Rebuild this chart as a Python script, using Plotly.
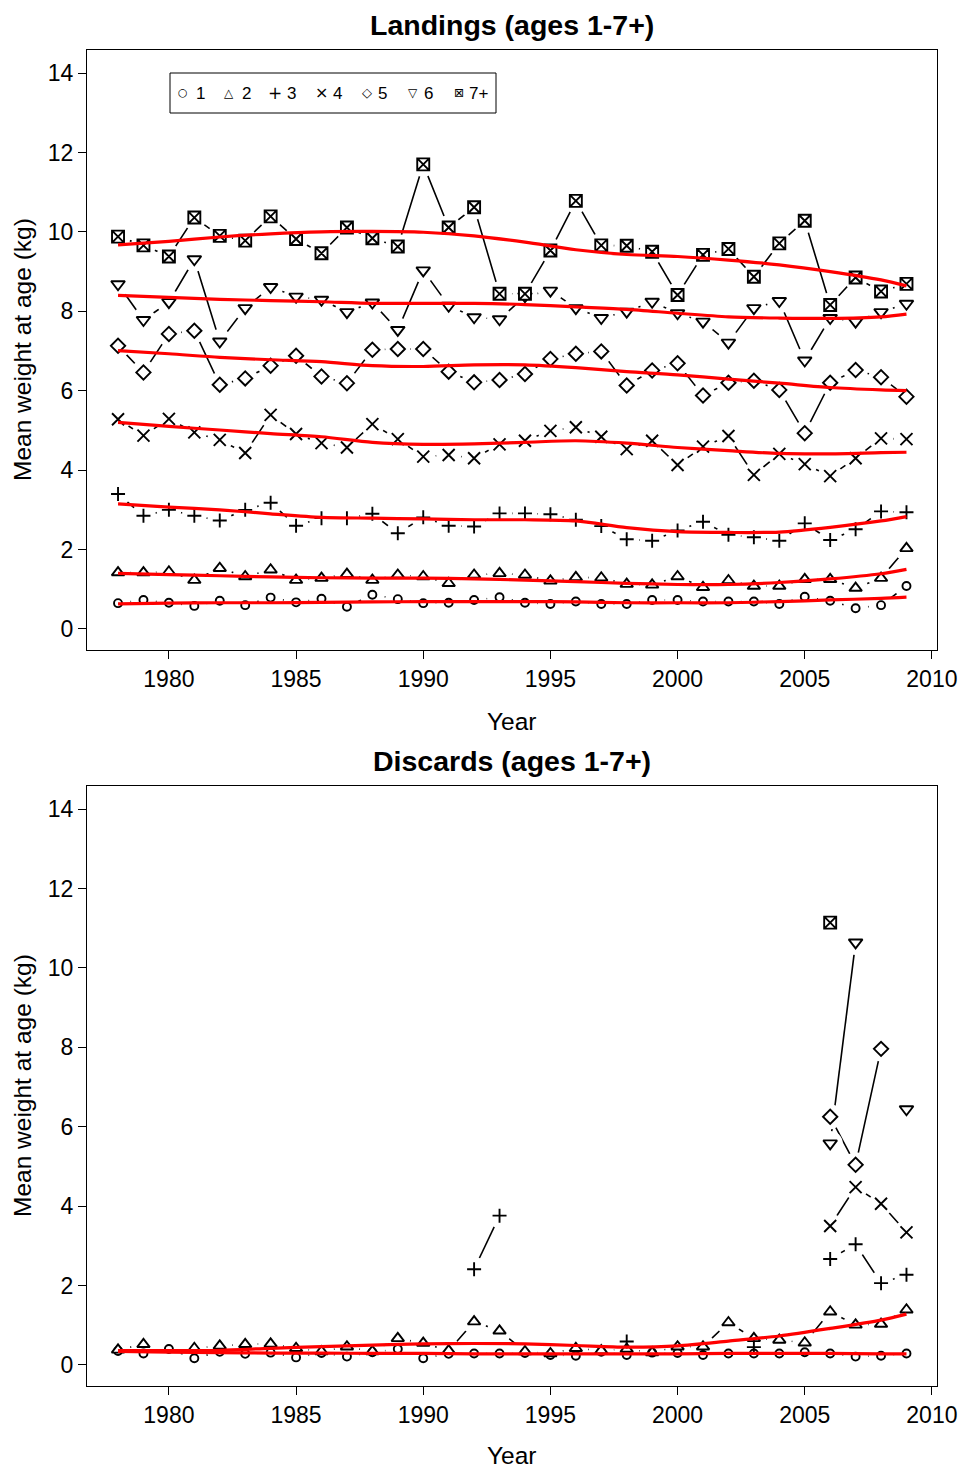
import plotly.graph_objects as go

years = list(range(1978, 2010))
age_names = ["1", "2", "3", "4", "5", "6", "7+"]

# Landings mean weight at age (kg)
land_1 = [0.65, 0.73, 0.66, 0.58, 0.71, 0.60, 0.79, 0.67, 0.76, 0.56, 0.86, 0.75, 0.65, 0.66, 0.73, 0.80,
          0.66, 0.63, 0.69, 0.63, 0.63, 0.73, 0.73, 0.69, 0.69, 0.69, 0.63, 0.81, 0.71, 0.52, 0.60, 1.08]
land_2 = [1.42, 1.42, 1.44, 1.23, 1.53, 1.32, 1.49, 1.23, 1.28, 1.38, 1.23, 1.36, 1.32, 1.15, 1.36, 1.40,
          1.36, 1.21, 1.30, 1.29, 1.13, 1.11, 1.32, 1.05, 1.22, 1.08, 1.08, 1.25, 1.25, 1.03, 1.28, 2.03]
land_3 = [3.40, 2.85, 3.00, 2.85, 2.73, 3.00, 3.18, 2.60, 2.79, 2.79, 2.90, 2.41, 2.81, 2.60, 2.58, 2.91,
          2.91, 2.89, 2.75, 2.59, 2.26, 2.22, 2.48, 2.70, 2.37, 2.31, 2.22, 2.66, 2.24, 2.51, 2.96, 2.94]
land_4 = [5.28, 4.87, 5.29, 4.95, 4.76, 4.43, 5.39, 4.91, 4.68, 4.57, 5.16, 4.78, 4.34, 4.38, 4.30, 4.65,
          4.74, 4.99, 5.08, 4.84, 4.53, 4.74, 4.13, 4.59, 4.86, 3.88, 4.41, 4.15, 3.85, 4.30, 4.80, 4.78]
land_5 = [7.13, 6.46, 7.43, 7.51, 6.15, 6.31, 6.63, 6.88, 6.36, 6.19, 7.03, 7.05, 7.05, 6.48, 6.21, 6.27,
          6.42, 6.80, 6.93, 6.99, 6.13, 6.51, 6.69, 5.88, 6.20, 6.25, 6.02, 4.93, 6.20, 6.52, 6.34, 5.85]
land_6 = [8.68, 7.78, 8.23, 9.31, 7.24, 8.08, 8.61, 8.37, 8.29, 7.98, 8.22, 7.53, 9.03, 8.14, 7.85, 7.80,
          8.38, 8.52, 8.08, 7.83, 7.99, 8.24, 7.95, 7.74, 7.21, 8.08, 8.26, 6.76, 7.83, 7.74, 7.98, 8.19]
land_7 = [9.88, 9.66, 9.38, 10.36, 9.90, 9.78, 10.39, 9.82, 9.46, 10.11, 9.84, 9.63, 11.70, 10.11, 10.62, 8.44,
          8.44, 9.53, 10.78, 9.66, 9.65, 9.50, 8.41, 9.42, 9.57, 8.87, 9.71, 10.28, 8.16, 8.85, 8.50, 8.69]

# Discards mean weight at age (kg); None = no data
N = None
disc_1 = [0.35, 0.29, 0.40, 0.17, 0.33, 0.28, 0.31, 0.19, 0.30, 0.21, 0.32, 0.40, 0.17, 0.28, 0.29, 0.29,
          0.30, 0.25, 0.23, 0.33, 0.25, 0.31, 0.30, 0.25, 0.29, 0.29, 0.29, 0.32, 0.29, 0.21, 0.23, 0.29]
disc_2 = [0.38, 0.52, N, 0.42, 0.48, 0.52, 0.53, 0.42, 0.34, 0.46, 0.34, 0.67, 0.55, 0.36, 1.09, 0.86,
          0.34, 0.29, 0.42, 0.36, 0.40, 0.31, 0.46, 0.46, 1.07, 0.67, 0.63, 0.56, 1.34, 1.01, 1.03, 1.39]
disc_3 = [N, N, N, N, N, N, N, N, N, N, N, N, N, N, 2.41, 3.76,
          N, N, N, N, 0.59, N, N, N, N, 0.45, N, N, 2.67, 3.04, 2.06, 2.27]
disc_4 = [N] * 28 + [3.50, 4.48, 4.06, 3.34]
disc_5 = [N] * 28 + [6.25, 5.04, 7.96, N]
disc_6 = [N] * 28 + [5.58, 10.64, N, 6.44]
disc_7 = [N] * 28 + [11.14, N, N, N]

# Smoothed trend lines (red), read at these years
smooth_years = [1978, 1980, 1982, 1984, 1986, 1988, 1990, 1992, 1994, 1996, 1998, 2000, 2002, 2004, 2006, 2008, 2009]
land_s1 = [0.63, 0.65, 0.66, 0.66, 0.67, 0.68, 0.69, 0.69, 0.69, 0.68, 0.66, 0.66, 0.66, 0.69, 0.73, 0.77, 0.80]
land_s2 = [1.40, 1.37, 1.34, 1.31, 1.29, 1.28, 1.28, 1.26, 1.23, 1.19, 1.15, 1.12, 1.12, 1.17, 1.26, 1.39, 1.50]
land_s3 = [3.15, 3.07, 3.00, 2.90, 2.81, 2.79, 2.77, 2.75, 2.75, 2.72, 2.55, 2.45, 2.43, 2.44, 2.56, 2.72, 2.83]
land_s4 = [5.20, 5.10, 5.01, 4.92, 4.84, 4.70, 4.65, 4.66, 4.70, 4.74, 4.68, 4.57, 4.49, 4.42, 4.41, 4.44, 4.45]
land_s5 = [7.01, 6.93, 6.84, 6.78, 6.73, 6.63, 6.61, 6.65, 6.65, 6.58, 6.48, 6.40, 6.29, 6.19, 6.08, 6.02, 6.00]
land_s6 = [8.40, 8.35, 8.30, 8.27, 8.24, 8.20, 8.20, 8.20, 8.17, 8.11, 8.05, 7.95, 7.86, 7.83, 7.82, 7.86, 7.93]
land_s7 = [9.67, 9.76, 9.87, 9.95, 10.00, 10.01, 9.99, 9.90, 9.74, 9.55, 9.43, 9.38, 9.29, 9.17, 9.00, 8.79, 8.64]
disc_s1 = [0.34, 0.32, 0.31, 0.30, 0.30, 0.29, 0.29, 0.28, 0.28, 0.28, 0.28, 0.28, 0.29, 0.29, 0.29, 0.28, 0.28]
disc_s2 = [0.36, 0.36, 0.37, 0.42, 0.46, 0.50, 0.53, 0.54, 0.53, 0.49, 0.45, 0.48, 0.60, 0.73, 0.92, 1.13, 1.28]

x_ticks = [1980, 1985, 1990, 1995, 2000, 2005, 2010]
y_ticks = [0, 2, 4, 6, 8, 10, 12, 14]

# legend key glyphs (text)
legend_glyphs = ["\u25CB", "\u25B3", "+", "\u00D7", "\u25C7", "\u25BD", "\u22A0"]

# styles
symbols = ["circle", "triangle-up", "cross-thin", "x-thin", "diamond", "triangle-down", "square-x"]
sizes = [8, 11, 10, 12, 11, 12, 12]
fills = ["white", "white", "black", "black", "white", "white", "white"]
glyph_sizes = [11, 12, 17, 16, 13, 12, 12]
FONT = "Liberation Sans, Arial, sans-serif"
GLYPH_FONT = "DejaVu Sans, sans-serif"

fig = go.Figure()

def add_panel(series, smooths, xa, ya):
    # connecting lines
    for s in series:
        fig.add_trace(go.Scatter(x=years, y=s, mode="lines", xaxis=xa, yaxis=ya,
                                 line=dict(color="black", width=1.6),
                                 showlegend=False, hoverinfo="skip"))
    # white gaps around points (type "b" look)
    for s in series:
        fig.add_trace(go.Scatter(x=years, y=s, mode="markers", xaxis=xa, yaxis=ya,
                                 marker=dict(symbol="circle", size=25, color="white", line=dict(width=0)),
                                 showlegend=False, hoverinfo="skip"))
    # point symbols
    for s, sym, sz, fc, nm in zip(series, symbols, sizes, fills, age_names):
        fig.add_trace(go.Scatter(x=years, y=s, mode="markers", xaxis=xa, yaxis=ya, name=nm,
                                 marker=dict(symbol=sym, size=sz, color=fc,
                                             line=dict(color="black", width=1.9)),
                                 showlegend=False))
    # smoothed trends
    for sm in smooths:
        fig.add_trace(go.Scatter(x=smooth_years, y=sm, mode="lines", xaxis=xa, yaxis=ya,
                                 line=dict(color="red", width=3.2, shape="spline", smoothing=0.8),
                                 showlegend=False, hoverinfo="skip"))

add_panel([land_1, land_2, land_3, land_4, land_5, land_6, land_7],
          [land_s1, land_s2, land_s3, land_s4, land_s5, land_s6, land_s7], "x", "y")
add_panel([disc_1, disc_2, disc_3, disc_4, disc_5, disc_6, disc_7],
          [disc_s1, disc_s2], "x2", "y2")

xrange = [1976.78, 2010.2]
yrange = [-0.53, 14.58]
top_dom = [736 / 1336, 1.0]
bot_dom = [0.0, 600 / 1336]

axis_common = dict(showline=True, mirror=True, linecolor="black", linewidth=1,
                   ticks="outside", ticklen=8, tickwidth=1, tickcolor="black",
                   showgrid=False, zeroline=False, automargin=False,
                   tickfont=dict(family=FONT, size=23, color="black"))

fig.update_layout(
    width=966, height=1470,
    margin=dict(l=87, r=29, t=50, b=84),
    paper_bgcolor="white", plot_bgcolor="white",
    font=dict(family=FONT, color="black"),
    xaxis=dict(domain=[0, 1], anchor="y", range=xrange, tickvals=x_ticks, **axis_common),
    yaxis=dict(domain=top_dom, anchor="x", range=yrange, tickvals=y_ticks, **axis_common),
    xaxis2=dict(domain=[0, 1], anchor="y2", range=xrange, tickvals=x_ticks, **axis_common),
    yaxis2=dict(domain=bot_dom, anchor="x2", range=yrange, tickvals=y_ticks, **axis_common),
    showlegend=False,
)

def px_x(pix):
    return (pix - 87) / 850

def px_y(pix):
    return (1386 - pix) / 1336

annotations = [
    dict(text="<b>Landings (ages 1-7+)</b>", x=0.5, y=px_y(25), font=dict(size=28.5)),
    dict(text="<b>Discards (ages 1-7+)</b>", x=0.5, y=px_y(761), font=dict(size=28.5)),
    dict(text="Year", x=0.5, y=px_y(721), font=dict(size=24.5)),
    dict(text="Year", x=0.5, y=px_y(1456), font=dict(size=24.5)),
    dict(text="Mean weight at age (kg)", x=px_x(22), y=px_y(350), textangle=-90, font=dict(size=24.5)),
    dict(text="Mean weight at age (kg)", x=px_x(22), y=px_y(1086), textangle=-90, font=dict(size=24.5)),
]
for a in annotations:
    a.update(xanchor="center", yanchor="middle")
    a["font"].update(family=FONT)

# legend key (box with glyph + label per age)
for i, (g, gs, nm) in enumerate(zip(legend_glyphs, glyph_sizes, age_names)):
    annotations.append(dict(text=g, x=px_x(183 + 46 * i), y=px_y(93), xanchor="center", yanchor="middle",
                            font=dict(family=GLYPH_FONT, size=gs)))
    annotations.append(dict(text=nm, x=px_x(194 + 45.5 * i), y=px_y(94), xanchor="left", yanchor="middle",
                            font=dict(family=FONT, size=17)))
for a in annotations:
    a.update(xref="paper", yref="paper", showarrow=False)
    a["font"].update(color="black")
fig.update_layout(annotations=annotations)

fig.add_shape(type="rect", xref="paper", yref="paper",
              x0=px_x(170), x1=px_x(496), y0=px_y(113), y1=px_y(73),
              line=dict(color="black", width=1), fillcolor="white", layer="above")

# remove the default page margin so the figure fills the window exactly
fig.write_html("out.html", config={"displayModeBar": False},
               post_script="document.body.style.margin='0px';")
